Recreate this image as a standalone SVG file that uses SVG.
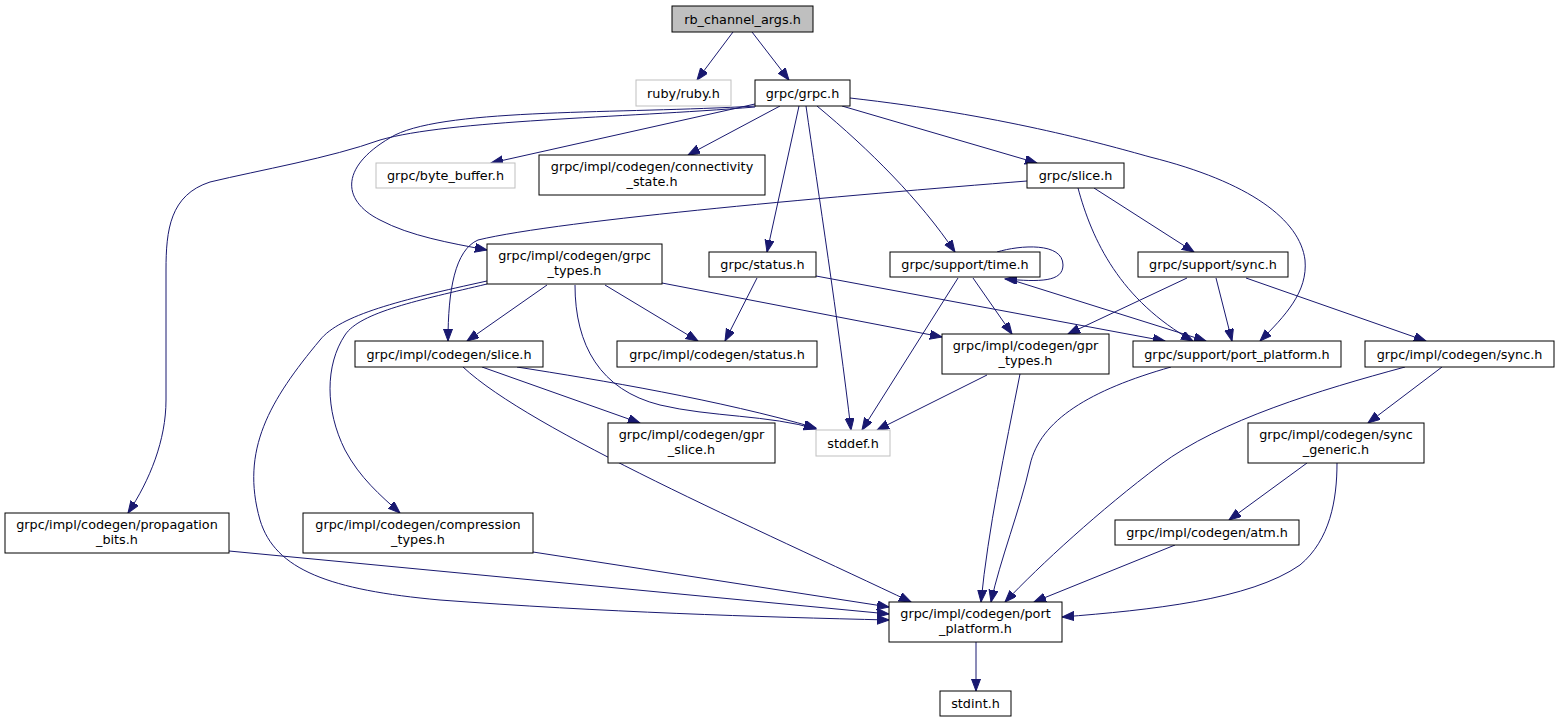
<svg xmlns="http://www.w3.org/2000/svg" width="1559" height="723" viewBox="0 0 1559 723">
<style>
.n rect{fill:#ffffff;stroke:#000000;stroke-width:1}
.g rect{fill:#ffffff;stroke:#bfbfbf;stroke-width:1}
.root rect{fill:#bfbfbf;stroke:#000000;stroke-width:1}
text{font-family:"DejaVu Sans","Liberation Sans",sans-serif;font-size:12.8px;fill:#000000;text-anchor:middle}
#edges path{fill:none;stroke:#191970;stroke-width:1;marker-end:url(#arr)}
</style>
<defs>
<marker id="arr" markerWidth="13" markerHeight="10" refX="12" refY="4.5" orient="auto" markerUnits="userSpaceOnUse">
<path d="M0,0 L12,4.5 L0,9 z" fill="#191970" stroke="#191970" stroke-width="1"/>
</marker>
</defs>
<rect x="0" y="0" width="1559" height="723" fill="#ffffff"/>
<g id="edges">
<path d="M733,32 L697,80"/>
<path d="M752,32 L789,80"/>
<path d="M755,104 L491,163"/>
<path d="M780,106 L688,155"/>
<path d="M842,106 L1037,163"/>
<path d="M799,106 L767,252"/>
<path d="M806,106 C818,190 838,320 851,430"/>
<path d="M817,106 C870,150 920,200 955,252"/>
<path d="M756,106 C620,114 450,108 395,135 C340,165 340,200 380,220 C410,236 450,243 487,250"/>
<path d="M755,107 C620,118 450,120 380,140 C330,158 260,170 210,182 C170,195 166,230 166,270 L166,400 C166,440 150,480 128,513"/>
<path d="M850,98 C1000,115 1100,143 1150,157 C1250,182 1300,220 1305,260 C1308,292 1285,316 1260,341"/>
<path d="M1027,181 C850,195 560,220 478,240 C455,250 448,290 448,341"/>
<path d="M1078,188 C1092,240 1120,300 1193,341"/>
<path d="M1094,188 L1194,252"/>
<path d="M547,285 L467,341"/>
<path d="M605,285 L698,341"/>
<path d="M575,285 C575,345 600,390 660,405 C710,417 770,415 816,429"/>
<path d="M662,283 L942,337"/>
<path d="M487,281 C400,300 340,315 320,340 C270,400 240,450 260,520 C275,570 330,590 440,600 C600,612 760,617 889,620"/>
<path d="M487,284 C420,300 360,312 345,335 C325,365 325,410 345,450 C360,478 380,495 400,513"/>
<path d="M757,278 L725,341"/>
<path d="M816,276 L1165,341"/>
<path d="M997,252 C1020,245 1063,242 1063,265 C1063,282 1040,282 1005,279"/>
<path d="M958,278 L862,430"/>
<path d="M973,278 L1012,334"/>
<path d="M1015,281 L1206,341"/>
<path d="M1187,278 L1068,334"/>
<path d="M1216,278 L1232,341"/>
<path d="M1246,278 L1426,341"/>
<path d="M482,367 L640,423"/>
<path d="M517,367 C600,380 720,400 816,428"/>
<path d="M463,367 C530,430 760,530 911,602"/>
<path d="M987,375 L877,430"/>
<path d="M1020,374 C1005,450 988,530 981,602"/>
<path d="M1171,367 C1090,390 1040,420 1030,465 C1020,510 1000,560 991,602"/>
<path d="M1405,367 C1320,390 1220,420 1160,465 C1100,510 1040,565 1005,602"/>
<path d="M1442,367 L1368,423"/>
<path d="M1307,463 L1229,520"/>
<path d="M1337,463 C1337,500 1330,540 1300,565 C1250,600 1150,610 1062,617"/>
<path d="M1175,545 L1034,602"/>
<path d="M229,551 L889,614"/>
<path d="M533,552 L889,607"/>
<path d="M976,642 L976,691"/>
</g>
<g id="node-rb_channel_args" class="root"><rect x="672" y="6" width="141" height="26"/><text x="742.5" y="23.5">rb_channel_args.h</text></g>
<g id="node-ruby_ruby" class="g"><rect x="636" y="80" width="95" height="26"/><text x="683.5" y="97.5">ruby/ruby.h</text></g>
<g id="node-grpc_grpc" class="n"><rect x="755" y="80" width="95" height="26"/><text x="802.5" y="97.5">grpc/grpc.h</text></g>
<g id="node-byte_buffer" class="g"><rect x="376" y="163" width="139" height="25"/><text x="445.5" y="180">grpc/byte_buffer.h</text></g>
<g id="node-connectivity_state" class="n"><rect x="539" y="155" width="226" height="40"/><text x="652" y="170.5">grpc/impl/codegen/connectivity</text><text x="652" y="185.5">_state.h</text></g>
<g id="node-grpc_slice" class="n"><rect x="1027" y="163" width="97" height="25"/><text x="1075.5" y="180">grpc/slice.h</text></g>
<g id="node-grpc_types" class="n"><rect x="487" y="244" width="175" height="40"/><text x="574.5" y="259.5">grpc/impl/codegen/grpc</text><text x="574.5" y="274.5">_types.h</text></g>
<g id="node-grpc_status" class="n"><rect x="709" y="252" width="107" height="25"/><text x="762.5" y="269">grpc/status.h</text></g>
<g id="node-support_time" class="n"><rect x="890" y="252" width="150" height="25"/><text x="965" y="269">grpc/support/time.h</text></g>
<g id="node-support_sync" class="n"><rect x="1138" y="252" width="150" height="25"/><text x="1213" y="269">grpc/support/sync.h</text></g>
<g id="node-codegen_slice" class="n"><rect x="355" y="341" width="188" height="26"/><text x="449" y="358.5">grpc/impl/codegen/slice.h</text></g>
<g id="node-codegen_status" class="n"><rect x="617" y="341" width="200" height="26"/><text x="717" y="358.5">grpc/impl/codegen/status.h</text></g>
<g id="node-gpr_types" class="n"><rect x="942" y="334" width="167" height="40"/><text x="1025.5" y="349.5">grpc/impl/codegen/gpr</text><text x="1025.5" y="364.5">_types.h</text></g>
<g id="node-support_port_platform" class="n"><rect x="1133" y="341" width="208" height="26"/><text x="1237" y="358.5">grpc/support/port_platform.h</text></g>
<g id="node-codegen_sync" class="n"><rect x="1365" y="341" width="189" height="26"/><text x="1459.5" y="358.5">grpc/impl/codegen/sync.h</text></g>
<g id="node-gpr_slice" class="n"><rect x="608" y="423" width="167" height="40"/><text x="691.5" y="438.5">grpc/impl/codegen/gpr</text><text x="691.5" y="453.5">_slice.h</text></g>
<g id="node-stddef" class="g"><rect x="816" y="430" width="74" height="26"/><text x="853" y="447.5">stddef.h</text></g>
<g id="node-sync_generic" class="n"><rect x="1248" y="423" width="176" height="40"/><text x="1336" y="438.5">grpc/impl/codegen/sync</text><text x="1336" y="453.5">_generic.h</text></g>
<g id="node-propagation_bits" class="n"><rect x="5" y="513" width="224" height="40"/><text x="117" y="528.5">grpc/impl/codegen/propagation</text><text x="117" y="543.5">_bits.h</text></g>
<g id="node-compression_types" class="n"><rect x="303" y="513" width="230" height="40"/><text x="418" y="528.5">grpc/impl/codegen/compression</text><text x="418" y="543.5">_types.h</text></g>
<g id="node-atm" class="n"><rect x="1115" y="520" width="184" height="25"/><text x="1207" y="537">grpc/impl/codegen/atm.h</text></g>
<g id="node-codegen_port_platform" class="n"><rect x="889" y="602" width="173" height="40"/><text x="975.5" y="617.5">grpc/impl/codegen/port</text><text x="975.5" y="632.5">_platform.h</text></g>
<g id="node-stdint" class="n"><rect x="940" y="691" width="71" height="25"/><text x="975.5" y="708">stdint.h</text></g>
</svg>
